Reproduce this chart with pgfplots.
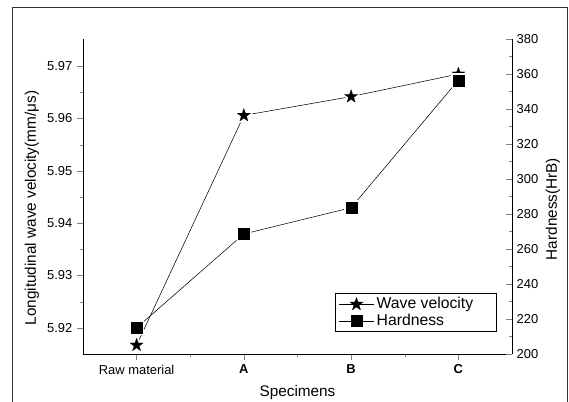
\documentclass[border=0pt]{standalone}
\usepackage{pgfplots}
\pgfplotsset{compat=1.18}
\usepackage{fontspec}
\setmainfont{Liberation Sans}

% filled five-pointed star mark
\pgfdeclareplotmark{fstar}{%
  \pgfpathmoveto{\pgfpointpolar{90}{\pgfplotmarksize}}%
  \pgfpathlineto{\pgfpointpolar{126}{0.40*\pgfplotmarksize}}%
  \pgfpathlineto{\pgfpointpolar{162}{\pgfplotmarksize}}%
  \pgfpathlineto{\pgfpointpolar{198}{0.40*\pgfplotmarksize}}%
  \pgfpathlineto{\pgfpointpolar{234}{\pgfplotmarksize}}%
  \pgfpathlineto{\pgfpointpolar{270}{0.40*\pgfplotmarksize}}%
  \pgfpathlineto{\pgfpointpolar{306}{\pgfplotmarksize}}%
  \pgfpathlineto{\pgfpointpolar{342}{0.40*\pgfplotmarksize}}%
  \pgfpathlineto{\pgfpointpolar{18}{\pgfplotmarksize}}%
  \pgfpathlineto{\pgfpointpolar{54}{0.40*\pgfplotmarksize}}%
  \pgfpathclose
  \pgfusepathqfillstroke
}

\pgfplotsset{
  common/.style={
    scale only axis, width=321.75pt, height=236.25pt,
    xmin=-0.5, xmax=3.5,
    tick label style={font=\fontsize{9.7}{11}\selectfont},
    label style={font=\fontsize{11.5}{13}\selectfont},
    /pgf/number format/assume math mode=true,
    major tick length=4.5pt, minor tick length=2.5pt,
    every axis plot/.append style={line width=0.4pt},
  },
  halo/.style={only marks, mark options={draw=white, fill=white, line width=3pt, line join=round}},
}

\begin{document}
\begin{tikzpicture}
\begin{axis}[common,
  axis x line*=bottom, axis y line*=left,
  tick align=outside,
  ymin=5.915, ymax=5.9752,
  xtick={0,1,2,3},
  xticklabels={Raw material,\textbf{A},\textbf{B},\textbf{C}},
  minor xtick={0.5,1.5,2.5},
  ytick={5.92,5.93,5.94,5.95,5.96,5.97},
  minor ytick={5.925,5.935,5.945,5.955,5.965},
  yticklabel style={/pgf/number format/.cd, fixed, fixed zerofill, precision=2},
  xlabel={Specimens},
  xlabel style={at={(axis description cs:0.5,-0.1)}, anchor=north, inner sep=0pt},
  ylabel={Longitudinal wave velocity(mm/μs)},
  ylabel style={at={(axis description cs:-0.119,0.463)}, anchor=center},
]
\addplot[black] coordinates {(0,5.9167) (1,5.9606) (2,5.9642) (3,5.9685)};
\addplot[halo, mark=fstar, mark size=5.25pt] coordinates {(0,5.9167) (1,5.9606) (2,5.9642) (3,5.9685)};
\addplot[only marks, mark=fstar, mark size=5.25pt, mark options={black, fill=black, line width=0.1pt}] coordinates {(0,5.9167) (1,5.9606) (2,5.9642) (3,5.9685)};
\end{axis}

\begin{axis}[common,
  axis x line=none, axis y line*=right,
  tick align=inside,
  ymin=200, ymax=380,
  ytick={200,220,...,380},
  minor ytick={210,230,...,370},
  ylabel={Hardness(HrB)},
  ylabel style={at={(axis description cs:1.0956,0.46)}, anchor=center},
  legend style={at={(axis description cs:0.963,0.07)}, anchor=south east,
    draw=black, font=\fontsize{11.8}{13}\selectfont, row sep=-1.5pt,
    inner xsep=3pt, inner ysep=1pt},
  legend cell align=left,
  legend image code/.code={\draw[mark repeat=2,mark phase=2,#1] plot coordinates {(0pt,0pt) (13pt,0pt) (26pt,0pt)};},
]
\addlegendimage{black, mark=fstar, mark size=5.25pt, mark options={fill=black, line width=0.1pt}}
\addlegendentry{Wave velocity\kern12pt}
\addlegendimage{black, mark=square*, mark size=4.1pt, mark options={fill=black}}
\addlegendentry{Hardness}
\addplot[black, forget plot] coordinates {(0,215) (1,268.6) (2,283.6) (3,356.5)};
\addplot[halo, mark=square*, mark size=4.1pt, forget plot] coordinates {(0,215) (1,268.6) (2,283.6) (3,356.5)};
\addplot[only marks, mark=square*, mark size=4.1pt, mark options={black, fill=black, line width=0.1pt}, forget plot] coordinates {(0,215) (1,268.6) (2,283.6) (3,356.5)};
\end{axis}

\draw[black!80, line width=0.6pt] (-53.25pt,-37.5pt) rectangle (363pt,260.25pt);
\pgfresetboundingbox
\useasboundingbox (-62.25pt,-35.25pt) rectangle (364.5pt,265.5pt);
\end{tikzpicture}
\end{document}
